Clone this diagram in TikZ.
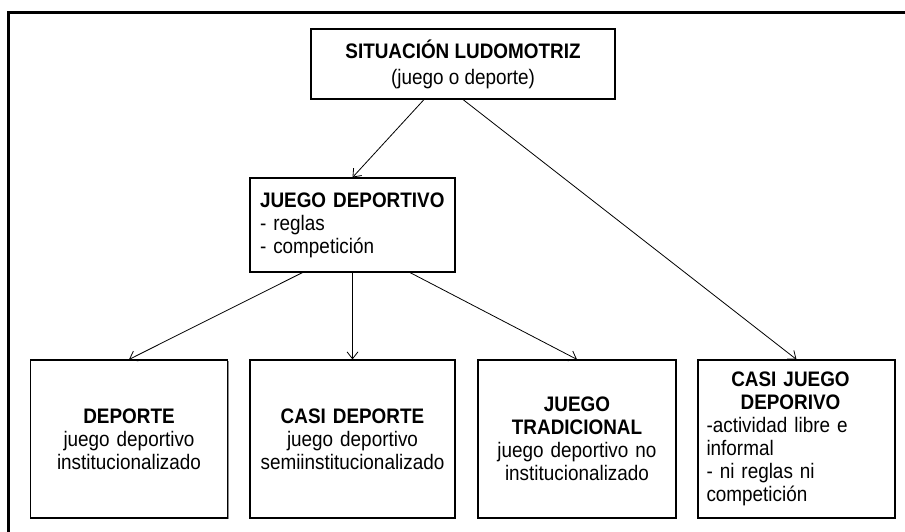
\documentclass[tikz,border=0pt]{standalone}
\usepackage{fontspec}
\setmainfont[FakeStretch=0.9]{Liberation Sans}
\usetikzlibrary{arrows.meta,shadows}
\begin{document}
\begin{tikzpicture}[x=1pt,y=-1pt,
  box/.style={draw=black, line width=1.1pt, fill=white, inner sep=0pt,
    drop shadow={shadow xshift=1.3pt, shadow yshift=-1.3pt, fill=black!45, opacity=1},
    font=\fontsize{21}{23}\selectfont},
  conn/.style={line width=0.8pt, -{Straight Barb[length=7pt,width=11pt,line width=0.8pt]}},
  outerframe/.style={line width=3pt}]
\useasboundingbox (0,0) rectangle (905,532);
\draw[outerframe] (8,545) -- (8,13) -- (915,13);

\node[box, minimum width=304pt, minimum height=70pt, align=center] (top) at (463,64)
  {\textbf{SITUACIÓN LUDOMOTRIZ}\\[3pt](juego o deporte)};
\node[box, minimum width=205pt, minimum height=94pt, text width=185pt, align=left] (jd) at (352.5,225)
  {\textbf{JUEGO DEPORTIVO}\\- reglas\\- competición};
\node[box, minimum width=197pt, minimum height=158pt, text width=190pt, align=center] (dep) at (129,439)
  {\textbf{DEPORTE}\\juego deportivo\\institucionalizado};
\node[box, minimum width=205pt, minimum height=158pt, text width=200pt, align=center] (cdep) at (352.5,439)
  {\textbf{CASI DEPORTE}\\juego deportivo\\semiinstitucionalizado};
\node[box, minimum width=198pt, minimum height=158pt, text width=190pt, align=center] (jt) at (577,439)
  {\textbf{JUEGO}\\\textbf{TRADICIONAL}\\juego deportivo no\\institucionalizado};
\node[box, minimum width=197pt, minimum height=158pt, text width=180pt, align=left] (cj) at (796.5,439)
  {\makebox[180pt]{\textbf{CASI JUEGO}\hspace{12pt}}\\\makebox[180pt]{\textbf{DEPORIVO}\hspace{12pt}}\\
   -actividad libre e\\informal\\- ni reglas ni\\competición};

\draw[conn] ([xshift=-39pt]top.south) -- (jd.north);
\draw[conn] (top.south) -- (cj.north);
\draw[conn] ([xshift=-50pt]jd.south) -- (dep.north);
\draw[conn] (jd.south) -- (cdep.north);
\draw[conn] ([xshift=57.5pt]jd.south) -- (jt.north);
\end{tikzpicture}
\end{document}
